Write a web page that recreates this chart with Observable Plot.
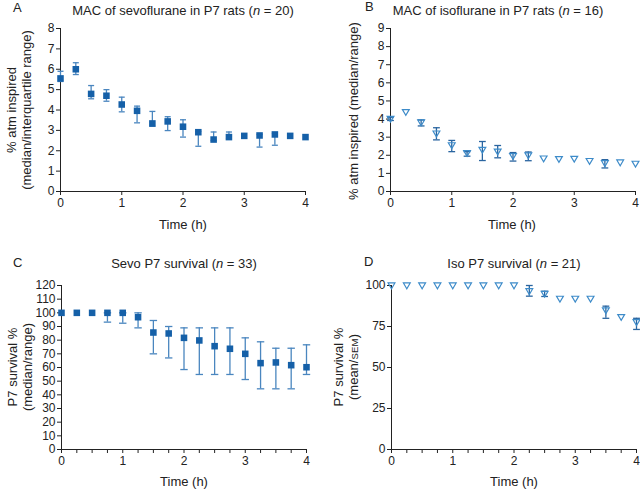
<!DOCTYPE html>
<html>
<head>
<meta charset="utf-8">
<script src="https://cdn.jsdelivr.net/npm/d3@7"></script>
<script src="https://cdn.jsdelivr.net/npm/@observablehq/plot@0.6"></script>
<style>
  html, body { margin: 0; padding: 0; background: #fff; }
  #fig { position: relative; width: 640px; height: 489px; background: #fff;
         font-family: "Liberation Sans", Arial, Helvetica, sans-serif; color: #222; overflow: hidden; }
  .abs { position: absolute; white-space: nowrap; }
  .t { font-size: 13px; line-height: 15px; transform: translate(-50%, -50%); text-align: center; }
  .lab { font-size: 13px; line-height: 15px; transform: translate(0, -50%); }
  .yl { font-size: 13px; line-height: 15px; transform: translate(-50%, -50%) rotate(-90deg); text-align: center; }
  .sc { font-size: 9.5px; letter-spacing: 0.2px; }
</style>
</head>
<body>
<div id="fig"></div>
<script>
// ---------- data ----------
const time = [0, 0.25, 0.5, 0.75, 1, 1.25, 1.5, 1.75, 2, 2.25, 2.5, 2.75, 3, 3.25, 3.5, 3.75, 4];

// A: MAC of sevoflurane (median / interquartile range)
const sevoMAC    = [5.55, 6.0, 4.79, 4.7, 4.27, 3.96, 3.34, 3.44, 3.18, 2.91, 2.55, 2.67, 2.73, 2.75, 2.8, 2.73, 2.67];
const sevoMAClo  = [5.4, 5.74, 4.55, 4.43, 3.91, 3.37, 3.2, 2.99, 2.67, 2.22, 2.5, 2.6, null, 2.18, 2.27, null, null];
const sevoMAChi  = [5.9, 6.32, 5.2, 5.0, 4.63, 4.19, 3.93, 3.67, 3.52, 2.95, 2.92, 2.92, null, 2.8, 2.85, null, null];

// B: MAC of isoflurane (median / range)
const isoMAC     = [4.01, 4.38, 3.81, 3.2, 2.55, 2.12, 2.3, 2.2, 1.95, 1.99, 1.82, 1.79, 1.8, 1.68, 1.56, 1.6, 1.53];
const isoMAClo   = [3.92, null, 3.62, 2.85, 2.2, 1.95, 1.71, 1.86, 1.68, 1.7, null, null, null, null, 1.3, null, null];
const isoMAChi   = [4.1, null, 3.95, 3.52, 2.82, 2.2, 2.76, 2.54, 2.15, 2.18, null, null, null, null, 1.76, null, null];

// C: Sevo P7 survival (median / range)
const sevoSurv   = [100, 100, 100, 100, 100, 96.8, 85.6, 84.9, 81.7, 79.8, 75.6, 73.7, 70, 63.2, 63.7, 61.7, 60.2];
const sevoSurvLo = [null, null, null, 93.2, 92.4, 89, 70, 67, 58.5, 54.9, 54.9, 54.9, 51.2, 44.4, 44.4, 44.4, 54.9];
const sevoSurvHi = [null, null, null, 100, 100, 100, 94.4, 90, 89, 89, 89, 89, 81.7, 78.8, 74.1, 74.1, 76.6];

// D: Iso P7 survival (mean / SEM)
const isoSurv    = [100, 100, 100, 100, 100, 100, 100, 100, 100, 96.5, 94.9, 91.9, 91.9, 91.9, 84.8, 80.7, 77.6];
const isoSurvLo  = [null, null, null, null, null, null, null, null, null, 93.5, 93.3, null, null, null, 80, null, 73.2];
const isoSurvHi  = [null, null, null, null, null, null, null, null, null, 100, 96.5, null, null, null, 87.4, null, 80];

// ticks
const xTicksMajor = [0, 1, 2, 3, 4];
const xTicksMinor = [0, 0.25, 0.5, 0.75, 1, 1.25, 1.5, 1.75, 2, 2.25, 2.5, 2.75, 3, 3.25, 3.5, 3.75, 4];
const yTicksA = [0, 1, 2, 3, 4, 5, 6, 7, 8];
const yTicksB = [0, 1, 2, 3, 4, 5, 6, 7, 8, 9];
const yTicksC = [0, 10, 20, 30, 40, 50, 60, 70, 80, 90, 100, 110, 120];
const yTicksD = [0, 25, 50, 75, 100];

// ---------- helpers ----------
const capSymbol = { draw(ctx, size) { const r = Math.sqrt(size / Math.PI); ctx.moveTo(-r, 0); ctx.lineTo(r, 0); } };
const triDown = { draw(ctx, size) {
  const r = Math.sqrt(size / Math.PI);
  ctx.moveTo(-r, -0.75 * r); ctx.lineTo(r, -0.75 * r); ctx.lineTo(0, 0.95 * r); ctx.closePath();
} };

function rows(v, lo, hi) { return time.map((t, i) => ({ t, v: v[i], lo: lo[i], hi: hi[i] })); }

const fig = document.getElementById("fig");

function add(html, cls, x, y) {
  const d = document.createElement("div");
  d.className = "abs " + cls;
  d.style.left = x + "px"; d.style.top = y + "px";
  d.innerHTML = html;
  fig.appendChild(d);
}

function panel(o) {
  const data = rows(o.v, o.lo, o.hi);
  const err = data.filter(d => d.lo != null && d.hi != null);
  const marks = [
    Plot.ruleY([o.yDomain[0]], { stroke: "#222", strokeWidth: 1 }),
    Plot.ruleX([0], { stroke: "#222", strokeWidth: 1 }),
    Plot.ruleX(err, { x: "t", y1: "lo", y2: "hi", stroke: o.errColor, strokeWidth: 1.3 }),
    Plot.dot(err, { x: "t", y: "lo", symbol: capSymbol, r: o.capR, stroke: o.errColor, fill: "none", strokeWidth: 1.3 }),
    Plot.dot(err, { x: "t", y: "hi", symbol: capSymbol, r: o.capR, stroke: o.errColor, fill: "none", strokeWidth: 1.3 })
  ];
  if (o.kind === "square") {
    marks.push(Plot.dot(data, { x: "t", y: "v", symbol: "square", r: 3.7, fill: "#1560a8", stroke: "none" }));
  } else {
    marks.push(Plot.dot(data, { x: "t", y: "v", symbol: triDown, r: 3.4, fill: "none", stroke: "#3d8bc9", strokeWidth: 1.2 }));
  }
  const p = Plot.plot({
    width: o.width, height: o.height,
    marginTop: o.mt, marginBottom: o.mb, marginLeft: o.ml, marginRight: o.mr,
    style: { fontSize: "12px", fontFamily: "'Liberation Sans', Arial, Helvetica, sans-serif", color: "#222", background: "transparent", overflow: "visible" },
    x: { domain: [0, 4], ticks: o.xTicks, tickFormat: d => Number.isInteger(d) ? String(d) : "", tickSize: 4, tickPadding: 3, label: null },
    y: { domain: o.yDomain, ticks: o.yTicks, tickSize: 4, tickPadding: 2, label: null },
    marks
  });
  const wrap = document.createElement("div");
  wrap.className = "abs";
  wrap.style.left = o.left + "px"; wrap.style.top = o.top + "px";
  wrap.appendChild(p);
  fig.appendChild(wrap);
}

// ---------- panels ----------
panel({ v: sevoMAC, lo: sevoMAClo, hi: sevoMAChi, kind: "square", errColor: "#4a86bf", capR: 3,
  yDomain: [0, 8], yTicks: yTicksA, xTicks: xTicksMajor,
  left: 0, top: 20, width: 320, height: 200, mt: 8, mb: 29, ml: 60, mr: 15 });
panel({ v: isoMAC, lo: isoMAClo, hi: isoMAChi, kind: "tri", errColor: "#2a65a0", capR: 3.4,
  yDomain: [0, 9], yTicks: yTicksB, xTicks: xTicksMajor,
  left: 320, top: 20, width: 320, height: 200, mt: 8, mb: 29, ml: 70, mr: 5 });
panel({ v: sevoSurv, lo: sevoSurvLo, hi: sevoSurvHi, kind: "square", errColor: "#4a86bf", capR: 3.7,
  yDomain: [0, 120], yTicks: yTicksC, xTicks: xTicksMinor,
  left: 0, top: 275, width: 320, height: 200, mt: 10, mb: 26, ml: 61, mr: 14 });
panel({ v: isoSurv, lo: isoSurvLo, hi: isoSurvHi, kind: "tri", errColor: "#2a65a0", capR: 3.4,
  yDomain: [0, 100], yTicks: yTicksD, xTicks: xTicksMinor,
  left: 320, top: 275, width: 320, height: 200, mt: 10, mb: 26, ml: 71, mr: 4 });

// ---------- texts ----------
add("A", "lab", 13, 7);
add("B", "lab", 365, 6);
add("C", "lab", 13, 262);
add("D", "lab", 364, 261);
add("MAC of sevoflurane in P7 rats (<i>n</i> = 20)", "t", 183, 10);
add("MAC of isoflurane in P7 rats (<i>n</i> = 16)", "t", 498, 10);
add("Sevo P7 survival (<i>n</i> = 33)", "t", 184, 263);
add("Iso P7 survival (<i>n</i> = 21)", "t", 514, 263);
add("Time (h)", "t", 183, 224);
add("Time (h)", "t", 512, 224);
add("Time (h)", "t", 184, 481);
add("Time (h)", "t", 514, 481);
add("% atm inspired<br>(median/interquartile range)", "yl", 19, 110);
add("% atm inspired (median/range)", "yl", 353, 111);
add("P7 survival %<br>(median/range)", "yl", 20, 367);
add("P7 survival %<br>(mean/<span class='sc'>SEM</span>)", "yl", 346, 367);
</script>
</body>
</html>
